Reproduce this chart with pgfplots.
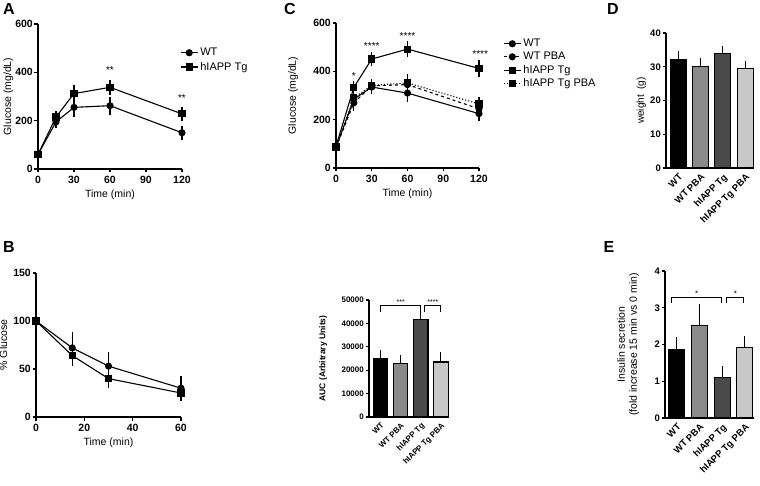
\documentclass[border=0pt]{standalone}
\usepackage{pgfplots}
\pgfplotsset{compat=1.18}
\usepackage{fontspec}
\setmainfont{Liberation Sans}
\definecolor{gA}{HTML}{8A8A8A}
\definecolor{gB}{HTML}{4A4A4A}
\definecolor{gC}{HTML}{C8C8C8}
\pgfplotsset{
  prism/.style={
    scale only axis,
    axis x line*=bottom, axis y line*=left,
    axis line style={line width=1.1pt, -},
    tick align=outside,
    major tick length=3.5pt,
    every tick/.style={line width=1.1pt, black},
    tick label style={font=\bfseries\fontsize{10.5}{11}\selectfont},
    yticklabel style={inner sep=1.5pt},
    label style={font=\fontsize{10.5}{12}\selectfont},
    /pgf/number format/assume math mode=true,
    scaled ticks=false,
    /pgf/number format/1000 sep={},
    clip=false,
  },
  ylpos/.style={ylabel style={at={(axis description cs:#1,0.5)}, anchor=center}},
  ln/.style={black, line width=1.1pt, mark size=3pt, mark options={solid, fill=black},
    error bars/y dir=both, error bars/y explicit,
    error bars/error bar style={line width=1.1pt, solid},
    error bars/error mark options={mark size=3.5pt, line width=1.1pt, solid}},
  br/.style={ybar, bar shift=0pt, draw=black, line width=1.1pt,
    error bars/y dir=plus, error bars/y explicit,
    error bars/error bar style={line width=1.1pt},
    error bars/error mark options={mark size=3.5pt, line width=1.1pt}},
  bk/.style={black, line width=0.9pt, sharp plot, mark=none, forget plot},
}
\begin{document}
\begin{tikzpicture}
\useasboundingbox (0pt,0pt) rectangle (760pt,485pt);
% panel letters
\node[font=\bfseries\fontsize{16}{16}\selectfont] at (9pt,476pt) {A};
\node[font=\bfseries\fontsize{16}{16}\selectfont] at (9pt,238pt) {B};
\node[font=\bfseries\fontsize{16}{16}\selectfont] at (290pt,476pt) {C};
\node[font=\bfseries\fontsize{16}{16}\selectfont] at (613pt,476pt) {D};
\node[font=\bfseries\fontsize{16}{16}\selectfont] at (609pt,238pt) {E};

% ---------- A ----------
\begin{axis}[prism, at={(38pt,316pt)}, anchor=south west, width=144pt, height=145pt,
  xmin=0, xmax=120, ymin=0, ymax=600, xtick={0,30,60,90,120}, ytick={0,200,400,600},
  xlabel={Time (min)}, ylabel={Glucose (mg/dL)}, ylpos=-0.205,
  legend style={draw=none, fill=none, at={(0.965,0.862)}, anchor=north west,
    font=\fontsize{11}{12}\selectfont, row sep=1pt}, legend cell align=left]
\addplot[ln, mark=*] coordinates {(0,60) +- (0,8) (15,195) +- (0,10) (30,255) +- (0,25) (60,262) +- (0,22) (120,150) +- (0,15)};
\addlegendentry{WT}
\addplot[ln, mark=square*] coordinates {(0,60) +- (0,8) (15,215) +- (0,12) (30,312) +- (0,22) (60,338) +- (0,16) (120,228) +- (0,16)};
\addlegendentry{hIAPP Tg}
\node[font=\fontsize{10}{10}\selectfont] at (axis cs:60,410) {**};
\node[font=\fontsize{10}{10}\selectfont] at (axis cs:120,294) {**};
\end{axis}

% ---------- B ----------
\begin{axis}[prism, at={(36pt,68pt)}, anchor=south west, width=145pt, height=144pt,
  xmin=0, xmax=60, ymin=0, ymax=150, xtick={0,20,40,60}, ytick={0,50,100,150},
  xlabel={Time (min)}, ylabel={\% Glucose}, ylpos=-0.225]
\addplot[ln, mark=*] coordinates {(0,100) +- (0,1) (15,72) +- (0,13) (30,53) +- (0,11) (60,30) +- (0,9)};
\addplot[ln, mark=square*] coordinates {(0,100) +- (0,1) (15,64) +- (0,7) (30,40) +- (0,6) (60,25) +- (0,5)};
\end{axis}

% ---------- C ----------
\begin{axis}[prism, at={(336pt,317pt)}, anchor=south west, width=143pt, height=145pt,
  xmin=0, xmax=120, ymin=0, ymax=600, xtick={0,30,60,90,120}, ytick={0,200,400,600},
  xlabel={Time (min)}, ylabel={Glucose (mg/dL)}, ylpos=-0.30,
  legend style={draw=none, fill=none, at={(1.147,0.917)}, anchor=north west,
    font=\fontsize{11}{12}\selectfont, row sep=0pt}, legend cell align=left]
\addplot[ln, mark=*] coordinates {(0,85) +- (0,8) (15,285) +- (0,20) (30,335) +- (0,15) (60,310) +- (0,22) (120,225) +- (0,15)};
\addlegendentry{WT}
\addplot[ln, mark=*, dashed] coordinates {(0,85) +- (0,8) (15,270) +- (0,18) (30,340) +- (0,12) (60,345) +- (0,15) (120,245) +- (0,15)};
\addlegendentry{WT PBA}
\addplot[ln, mark=square*] coordinates {(0,90) +- (0,8) (15,334) +- (0,12) (30,451) +- (0,15) (60,492) +- (0,18) (120,412) +- (0,20)};
\addlegendentry{hIAPP Tg}
\addplot[ln, mark=square*, dotted] coordinates {(0,85) +- (0,8) (15,290) +- (0,15) (30,342) +- (0,12) (60,352) +- (0,22) (120,265) +- (0,15)};
\addlegendentry{hIAPP Tg PBA}
\node[font=\fontsize{10}{10}\selectfont] at (axis cs:15,380) {*};
\node[font=\fontsize{10}{10}\selectfont] at (axis cs:30,505) {****};
\node[font=\fontsize{10}{10}\selectfont] at (axis cs:60,546) {****};
\node[font=\fontsize{10}{10}\selectfont] at (axis cs:121,472) {****};
\end{axis}

% ---------- D ----------
\begin{axis}[prism, at={(666pt,317pt)}, anchor=south west, width=88pt, height=135pt,
  xmin=-0.55, xmax=3.4, ymin=0, ymax=40, ytick={0,10,20,30,40},
  xtick={0,1,2,3}, xticklabels={WT,WT PBA,hIAPP Tg,hIAPP Tg PBA},
  x tick style={draw=none},
  tick label style={font=\bfseries\fontsize{9.5}{10}\selectfont},
  xticklabel style={rotate=45, anchor=north east, inner sep=1pt},
  ylabel={weight\ \ (g)}, ylpos=-0.28, label style={font=\fontsize{10}{12}\selectfont}]
\addplot[br, bar width=16pt, fill=black] coordinates {(0,32) +- (0,1.5)};
\addplot[br, bar width=16pt, fill=gA] coordinates {(1,30.2) +- (0,1.3)};
\addplot[br, bar width=16pt, fill=gB] coordinates {(2,34) +- (0,1.2)};
\addplot[br, bar width=16pt, fill=gC] coordinates {(3,29.5) +- (0,1.3)};
\end{axis}

% ---------- AUC ----------
\begin{axis}[prism, at={(369pt,68pt)}, anchor=south west, width=79pt, height=117pt,
  xmin=-0.57, xmax=3.35, ymin=0, ymax=50000, ytick={0,10000,20000,30000,40000,50000},
  xtick={0,1,2,3}, xticklabels={WT,WT PBA,hIAPP Tg,hIAPP Tg PBA},
  x tick style={draw=none},
  tick label style={font=\bfseries\fontsize{8}{9}\selectfont},
  xticklabel style={rotate=45, anchor=north east, inner sep=1pt},
  ylabel={AUC (Arbitrary Units)}, ylpos=-0.58, label style={font=\bfseries\fontsize{8.5}{10}\selectfont}]
\addplot[br, bar width=14.5pt, fill=black] coordinates {(0,25000) +- (0,2000)};
\addplot[br, bar width=14.5pt, fill=gA] coordinates {(1,23000) +- (0,1800)};
\addplot[br, bar width=14.5pt, fill=gB] coordinates {(2,41500) +- (0,2000)};
\addplot[br, bar width=14.5pt, fill=gC] coordinates {(3,23500) +- (0,2800)};
\addplot[bk] coordinates {(0,45000) (0,47500) (1.98,47500) (1.98,45000)};
\addplot[bk] coordinates {(2.18,45000) (2.18,47500) (3,47500) (3,45000)};
\node[font=\fontsize{7}{7}\selectfont, anchor=south, inner sep=1pt] at (axis cs:1,47500) {***};
\node[font=\fontsize{7}{7}\selectfont, anchor=south, inner sep=1pt] at (axis cs:2.6,47500) {****};
\end{axis}

% ---------- E ----------
\begin{axis}[prism, at={(665pt,67pt)}, anchor=south west, width=89pt, height=147pt,
  xmin=-0.52, xmax=3.4, ymin=0, ymax=4, ytick={0,1,2,3,4},
  xtick={0,1,2,3}, xticklabels={WT,WT PBA,hIAPP Tg,hIAPP Tg PBA},
  x tick style={draw=none},
  tick label style={font=\bfseries\fontsize{9.5}{10}\selectfont},
  xticklabel style={rotate=45, anchor=north east, inner sep=1pt},
  ylabel={Insulin secretion\\(fold increase 15 min vs 0 min)},
  ylabel style={align=center}, ylpos=-0.415,
  label style={font=\fontsize{10.5}{12}\selectfont}]
\addplot[br, bar width=16pt, fill=black] coordinates {(0,1.87) +- (0,0.23)};
\addplot[br, bar width=16pt, fill=gA] coordinates {(1,2.52) +- (0,0.5)};
\addplot[br, bar width=16pt, fill=gB] coordinates {(2,1.1) +- (0,0.22)};
\addplot[br, bar width=16pt, fill=gC] coordinates {(3,1.93) +- (0,0.2)};
\addplot[bk] coordinates {(-0.22,3.12) (-0.22,3.27) (1.95,3.27) (1.95,3.12)};
\addplot[bk] coordinates {(2.2,3.12) (2.2,3.27) (2.95,3.27) (2.95,3.12)};
\node[font=\fontsize{8}{8}\selectfont, anchor=south, inner sep=1pt] at (axis cs:0.87,3.27) {*};
\node[font=\fontsize{8}{8}\selectfont, anchor=south, inner sep=1pt] at (axis cs:2.58,3.27) {*};
\end{axis}
\end{tikzpicture}
\end{document}
